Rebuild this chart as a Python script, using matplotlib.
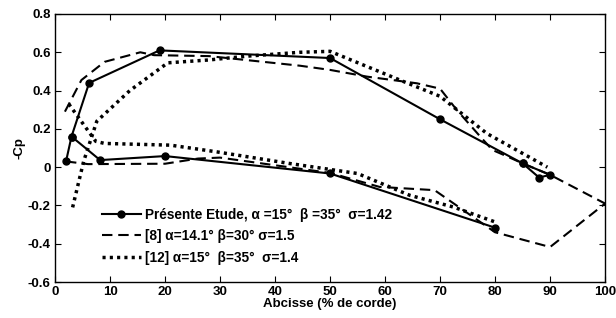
import matplotlib
matplotlib.use('Agg')
import matplotlib.pyplot as plt

# Présente Etude (solid with markers)
etude_up_x = [2, 3, 6.2, 19, 50, 70, 85, 88, 90, 85]
etude_up_y = [0.03, 0.16, 0.44, 0.61, 0.57, 0.25, 0.02, -0.054, -0.04, 0.02]
etude_lo_x = [3, 8.2, 20, 50, 80]
etude_lo_y = [0.16, 0.037, 0.058, -0.033, -0.316]

# [8] (dashed)
ref8_up_x = [1.8, 4.8, 9, 15.5, 18, 28, 44.5, 50, 56.7, 65.8, 70, 73, 77.3, 79.5, 81.5, 85, 90, 100]
ref8_up_y = [0.29, 0.455, 0.55, 0.60, 0.585, 0.58, 0.53, 0.508, 0.473, 0.438, 0.41, 0.30, 0.16, 0.09, 0.065, 0.02, -0.04, -0.19]
ref8_lo_x = [2, 6, 20, 26, 30, 50, 59, 69, 80, 90, 100]
ref8_lo_y = [0.03, 0.016, 0.018, 0.045, 0.05, -0.03, -0.103, -0.12, -0.34, -0.417, -0.19]

# [12] (dotted)
ref12_up_x = [3.2, 5.2, 7.6, 13.6, 20.5, 28, 35, 44.5, 50, 55.5, 62.7, 70, 78.5, 89.5]
ref12_up_y = [-0.21, 0.03, 0.24, 0.40, 0.545, 0.56, 0.58, 0.60, 0.605, 0.54, 0.455, 0.37, 0.176, 0.0]
ref12_lo_x = [2.5, 7.4, 9, 21, 29.4, 42.7, 55, 64.5, 72.4, 80]
ref12_lo_y = [0.33, 0.135, 0.124, 0.115, 0.08, 0.019, -0.033, -0.147, -0.208, -0.286]

labels = ['Présente Etude, α =15°  β =35°  σ=1.42',
          '[8] α=14.1° β=30° σ=1.5',
          '[12] α=15°  β=35°  σ=1.4']

plt.rcParams['font.family'] = ['Liberation Sans', 'DejaVu Sans']
plt.rcParams['font.weight'] = 'bold'
plt.rcParams['axes.labelweight'] = 'bold'

fig = plt.figure(figsize=(6.16, 3.18), dpi=100)
ax = fig.add_axes([0.0893, 0.113, 0.893, 0.843])

ax.plot(etude_up_x, etude_up_y, 'k-', lw=1.5, marker='o', ms=5, label=labels[0])
ax.plot(etude_lo_x, etude_lo_y, 'k-', lw=1.5, marker='o', ms=5)
ax.plot(ref8_up_x, ref8_up_y, 'k', lw=1.5, linestyle=(0, (5, 2.8)), label=labels[1])
ax.plot(ref8_lo_x, ref8_lo_y, 'k', lw=1.5, linestyle=(0, (5, 2.8)))
ax.plot(ref12_up_x, ref12_up_y, 'k', lw=2.5, linestyle=(0, (0.9, 1.2)), label=labels[2])
ax.plot(ref12_lo_x, ref12_lo_y, 'k', lw=2.5, linestyle=(0, (0.9, 1.2)))

ax.set_xlim(0, 100)
ax.set_ylim(-0.6, 0.8)
ax.set_xticks(range(0, 101, 10))
ax.set_yticks([-0.6, -0.4, -0.2, 0, 0.2, 0.4, 0.6, 0.8])
ax.set_yticklabels(['-0.6', '-0.4', '-0.2', '0', '0.2', '0.4', '0.6', '0.8'])
ax.tick_params(direction='in', top=True, right=True, length=4, width=0.8, pad=3, labelsize=9.5)
for lbl in ax.get_xticklabels() + ax.get_yticklabels():
    lbl.set_fontweight('bold')
for s in ax.spines.values():
    s.set_linewidth(1.0)

ax.set_xlabel('Abcisse (% de corde)', labelpad=0, fontsize=9.5, fontweight='bold')
ax.set_ylabel('-Cp', labelpad=2, fontsize=9.5, fontweight='bold')

leg = ax.legend(loc='lower left', bbox_to_anchor=(0.075, 0.045), frameon=False,
                numpoints=1, handlelength=2.9, handletextpad=0.25, labelspacing=0.55,
                borderaxespad=0, fontsize=9.8)
for t in leg.get_texts():
    t.set_fontweight('bold')

plt.savefig('out.png', dpi=100)
